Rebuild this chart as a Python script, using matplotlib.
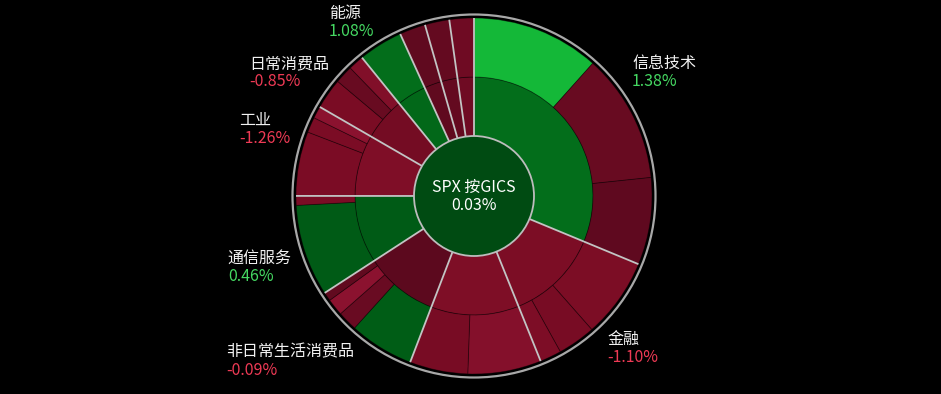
import numpy as np
import matplotlib
matplotlib.use('Agg')
import matplotlib.pyplot as plt
from matplotlib.patches import Wedge, Circle
from matplotlib.offsetbox import TextArea, VPacker, AnnotationBbox

plt.rcParams['font.family'] = ['Noto Sans CJK SC', 'DejaVu Sans']

# index summary shown in the middle
index_name = 'SPX 按GICS'
index_change = 0.03

# inner ring: GICS sectors, clockwise from 12 o'clock
sectors = ['信息技术', '金融', '医疗保健', '非日常生活消费品', '通信服务', '工业',
           '日常消费品', '能源', '公用事业', '房地产', '原材料']
sector_weights = [31.25, 12.64, 11.94, 10.0, 9.17, 8.33, 5.83, 4.03, 2.36, 2.22, 2.22]
sector_changes = [1.38, -1.10, -1.20, -0.09, 0.46, -1.26, -0.85, 1.08, -0.25, -0.40, -0.70]
labelled = ['信息技术', '金融', '非日常生活消费品', '通信服务', '工业', '日常消费品', '能源']

# outer ring: constituents of each sector (weight %, change %)
stock_weights = [
    [11.6, 11.7, 7.9],
    [7.25, 3.45, 1.95],
    [6.67, 5.28],
    [5.9, 1.8, 1.55, 0.8],
    [8.35, 0.85],
    [5.85, 1.4, 1.1],
    [2.8, 1.65, 1.4],
    [4.0],
    [2.36],
    [2.22],
    [2.22],
]
stock_changes = [
    [3.6, -0.5, -0.2],
    [-1.1, -0.95, -1.15],
    [-1.6, -0.95],
    [0.5, -0.55, -2.1, -0.3],
    [0.45, -1.05],
    [-1.05, -1.05, -2.1],
    [-1.0, -0.5, -1.4],
    [1.4],
    [-0.25],
    [-0.4],
    [-0.7],
]


def hex_rgb(h):
    return np.array([int(h[i:i + 2], 16) / 255 for i in (1, 3, 5)])


# colour scale: darker near zero, brighter for bigger moves
neg_stops = [0, 0.3, 0.6, 1.0, 1.5, 2.2]
neg_cols = ['#5a081e', '#610a1f', '#6b0b22', '#7a0c24', '#83102a', '#8c1230']
pos_stops = [0, 0.5, 1.4, 3.6]
pos_cols = ['#004a12', '#005d16', '#036e1b', '#14b838']


def change_color(v):
    if v < 0:
        stops, cols, v = neg_stops, neg_cols, -v
    else:
        stops, cols = pos_stops, pos_cols
    rgb = np.array([hex_rgb(c) for c in cols])
    return tuple(np.interp(v, stops, rgb[:, k]) for k in range(3))


fig = plt.figure(figsize=(9.41, 3.94), dpi=100, facecolor='black')
ax = fig.add_axes([0, 0, 1, 1])
ax.set_facecolor('black')
ax.set_xlim(0, 941)
ax.set_ylim(394, 0)
ax.axis('off')

cx, cy = 474, 196
r_core, r_mid, r_out, r_rim = 60, 119, 178, 181.5
thin = dict(edgecolor=(0, 0, 0, 0.4), linewidth=0.6)

total = sum(sector_weights)
start = 0.0
bounds, mids = [], []
for i, sec in enumerate(sectors):
    span = 360 * sector_weights[i] / total
    ax.add_patch(Wedge((cx, cy), r_mid, start - 90, start + span - 90,
                       width=r_mid - r_core, facecolor=change_color(sector_changes[i]), **thin))
    s = start
    sw = sum(stock_weights[i])
    for w, c in zip(stock_weights[i], stock_changes[i]):
        sspan = span * w / sw
        ax.add_patch(Wedge((cx, cy), r_out, s - 90, s + sspan - 90,
                           width=r_out - r_mid, facecolor=change_color(c), **thin))
        s += sspan
    bounds.append(start)
    mids.append(start + span / 2)
    start += span

# light separators between sectors
for a in bounds:
    t = np.radians(a)
    ax.plot([cx + r_core * np.sin(t), cx + r_out * np.sin(t)],
            [cy - r_core * np.cos(t), cy - r_out * np.cos(t)],
            color='#c4c4c4', lw=1.3, solid_capstyle='butt', zorder=3)

ax.add_patch(Circle((cx, cy), r_rim, fill=False, edgecolor='#a8a8a8', lw=1.6, zorder=3))
ax.add_patch(Circle((cx, cy), r_core, facecolor=change_color(index_change),
                    edgecolor='#bdbdbd', lw=1.3, zorder=4))

ax.text(cx, cy - 9, index_name, color='white', fontsize=11.5, ha='center', va='center', zorder=5)
ax.text(cx, cy + 9, f'{index_change:.2f}%', color='white', fontsize=11.5,
        ha='center', va='center', zorder=5)

# sector labels outside the ring
r_lab = 190
for i, sec in enumerate(sectors):
    if sec not in labelled:
        continue
    a = np.radians(mids[i])
    x = cx + r_lab * np.sin(a)
    y = cy - r_lab * np.cos(a)
    bx = 0 if np.sin(a) > 0 else 1
    by = 0 if np.cos(a) > 0 else 1
    # labels near the top get pushed down a little so they stay clear of each other
    if sec == '日常消费品':
        by = 0.5
    if sec == '能源':
        y += 6
    v = sector_changes[i]
    pct_col = '#45d862' if v >= 0 else '#ee3a55'
    box = VPacker(children=[TextArea(sec, textprops=dict(color='#f2f2f2', fontsize=11.5)),
                            TextArea(f'{v:.2f}%', textprops=dict(color=pct_col, fontsize=11.5))],
                  align='left', pad=0, sep=1)
    ax.add_artist(AnnotationBbox(box, (x, y), xycoords='data', box_alignment=(bx, by),
                                 frameon=False, pad=0))

fig.savefig('out.png', dpi=100, facecolor='black')
